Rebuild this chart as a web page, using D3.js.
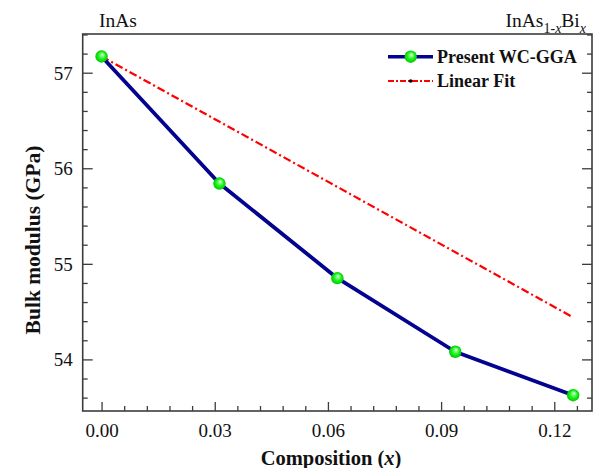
<!DOCTYPE html>
<html>
<head>
<meta charset="utf-8">
<script src="https://cdn.jsdelivr.net/npm/d3@7"></script>
<style>
  html, body { margin: 0; padding: 0; background: #fff; }
  svg { display: block; }
  text { font-family: "Liberation Serif", "DejaVu Serif", serif; fill: #111; }
</style>
</head>
<body>
<svg id="chart" width="595" height="468"></svg>
<script>
// Composition x of InAs(1-x)Bi(x)
const composition = [0, 0.03125, 0.0625, 0.09375, 0.125];
// Bulk modulus (GPa), WC-GGA
const bulkModulus = [57.17, 55.84, 54.85, 54.08, 53.625];
// Linear fit between the end members
const fitComposition = [0, 0.125];
const fitBulkModulus = [57.17, 54.44];

const xTickValues = [0, 0.03, 0.06, 0.09, 0.12];
const xTickLabels = ["0.00", "0.03", "0.06", "0.09", "0.12"];
const yTickValues = [54, 55, 56, 57];
const yTickLabels = ["54", "55", "56", "57"];

const legendLabels = ["Present WC-GGA", "Linear Fit"];

const W = 595, H = 468;
const plot = { left: 82.7, right: 592, top: 34, bottom: 411 };

const svg = d3.select("#chart");

const x = d3.scaleLinear().domain([-0.005, 0.13]).range([plot.left, plot.right]);
const y = d3.scaleLinear().domain([53.46, 57.405]).range([plot.bottom, plot.top]);

// sphere shading for markers
const defs = svg.append("defs");
const grad = defs.append("radialGradient")
  .attr("id", "ball").attr("cx", "50%").attr("cy", "50%").attr("r", "50%")
  .attr("fx", "58%").attr("fy", "32%");
grad.append("stop").attr("offset", "0%").attr("stop-color", "#ffffff");
grad.append("stop").attr("offset", "25%").attr("stop-color", "#7dff7d");
grad.append("stop").attr("offset", "60%").attr("stop-color", "#19f019");
grad.append("stop").attr("offset", "100%").attr("stop-color", "#00c800");

const frameColor = "#3c3c3c";

// minor ticks
const xMinor = d3.range(0, 0.1291, 0.006).filter(v => xTickValues.every(t => Math.abs(t - v) > 1e-6));
const yMinor = d3.range(53.6, 57.41, 0.2).filter(v => yTickValues.every(t => Math.abs(t - v) > 1e-6));

function styleAxis(g) {
  g.select(".domain").remove();
  g.selectAll(".tick line").attr("stroke", frameColor).attr("stroke-width", 1.3);
}

// bottom axis
svg.append("g").attr("transform", `translate(0,${plot.bottom})`)
  .call(d3.axisBottom(x).tickValues(xMinor).tickSize(-5).tickFormat(""))
  .call(styleAxis);
const xAxisG = svg.append("g").attr("transform", `translate(0,${plot.bottom})`)
  .call(d3.axisBottom(x).tickValues(xTickValues).tickSize(-9).tickPadding(0)
    .tickFormat((d, i) => xTickLabels[i]))
  .call(styleAxis);
xAxisG.selectAll(".tick text")
  .attr("y", 26).attr("dy", 0)
  .style("font-size", "19px").style("font-family", "Liberation Serif, serif").attr("fill", "#111");

// left axis
svg.append("g").attr("transform", `translate(${plot.left},0)`)
  .call(d3.axisLeft(y).tickValues(yMinor).tickSize(-5).tickFormat(""))
  .call(styleAxis);
const yAxisG = svg.append("g").attr("transform", `translate(${plot.left},0)`)
  .call(d3.axisLeft(y).tickValues(yTickValues).tickSize(-10).tickPadding(0)
    .tickFormat((d, i) => yTickLabels[i]))
  .call(styleAxis);
yAxisG.selectAll(".tick text")
  .attr("x", -10).attr("dy", "0.34em")
  .style("font-size", "19px").style("font-family", "Liberation Serif, serif").attr("fill", "#111");

// right axis (ticks only)
svg.append("g").attr("transform", `translate(${plot.right},0)`)
  .call(d3.axisRight(y).tickValues(yMinor).tickSize(-5).tickFormat(""))
  .call(styleAxis);
svg.append("g").attr("transform", `translate(${plot.right},0)`)
  .call(d3.axisRight(y).tickValues(yTickValues).tickSize(-10).tickFormat(""))
  .call(styleAxis);

// frame
svg.append("rect")
  .attr("x", plot.left).attr("y", plot.top)
  .attr("width", plot.right - plot.left).attr("height", plot.bottom - plot.top)
  .attr("fill", "none").attr("stroke", frameColor).attr("stroke-width", 1.6);

// linear fit
const fitLine = d3.line().x(d => x(d[0])).y(d => y(d[1]));
svg.append("path")
  .datum(d3.zip(fitComposition, fitBulkModulus))
  .attr("d", fitLine)
  .attr("fill", "none").attr("stroke", "#ff0000").attr("stroke-width", 2.2)
  .attr("stroke-dasharray", "8,3,2,3");

// WC-GGA curve
const dataLine = d3.line().x(d => x(d[0])).y(d => y(d[1]));
svg.append("path")
  .datum(d3.zip(composition, bulkModulus))
  .attr("d", dataLine)
  .attr("fill", "none").attr("stroke", "#03038f").attr("stroke-width", 3.8)
  .attr("stroke-linejoin", "round");

svg.append("g").selectAll("circle")
  .data(d3.zip(composition, bulkModulus))
  .join("circle")
  .attr("cx", d => x(d[0])).attr("cy", d => y(d[1])).attr("r", 6.2)
  .attr("fill", "url(#ball)");

// legend
const leg = svg.append("g");
leg.append("line").attr("x1", 388).attr("x2", 433).attr("y1", 56.7).attr("y2", 56.7)
  .attr("stroke", "#03038f").attr("stroke-width", 3.6);
leg.append("circle").attr("cx", 410.7).attr("cy", 56.7).attr("r", 6.2).attr("fill", "url(#ball)");
leg.append("text").attr("x", 437).attr("y", 62.5)
  .style("font-size", "18px").style("font-weight", "bold").text(legendLabels[0]);

leg.append("line").attr("x1", 388).attr("x2", 433).attr("y1", 81).attr("y2", 81)
  .attr("stroke", "#ff0000").attr("stroke-width", 2)
  .attr("stroke-dasharray", "6,2,2,2");
leg.append("circle").attr("cx", 410.7).attr("cy", 81).attr("r", 1.8).attr("fill", "#000");
leg.append("text").attr("x", 437).attr("y", 87)
  .style("font-size", "18px").style("font-weight", "bold").text(legendLabels[1]);

// end-member labels
svg.append("text").attr("x", 99).attr("y", 26.5)
  .style("font-size", "19.5px").text("InAs");

const alloy = svg.append("text").attr("x", 586).attr("y", 26.5)
  .attr("text-anchor", "end").style("font-size", "19.5px");
alloy.append("tspan").text("InAs");
alloy.append("tspan").attr("dy", 6).style("font-size", "14px").text("1-");
alloy.append("tspan").style("font-size", "14px").style("font-style", "italic").text("x");
alloy.append("tspan").attr("dy", -6).text("Bi");
alloy.append("tspan").attr("dy", 6).style("font-size", "14px").style("font-style", "italic").text("x");

// axis titles
const xTitle = svg.append("text").attr("x", 331).attr("y", 464.5)
  .attr("text-anchor", "middle").style("font-size", "20.5px").style("font-weight", "bold");
xTitle.append("tspan").text("Composition (");
xTitle.append("tspan").style("font-style", "italic").text("x");
xTitle.append("tspan").text(")");

svg.append("text")
  .attr("transform", `translate(40,240) rotate(-90)`)
  .attr("text-anchor", "middle").style("font-size", "21.5px").style("font-weight", "bold")
  .text("Bulk modulus (GPa)");
</script>
</body>
</html>
